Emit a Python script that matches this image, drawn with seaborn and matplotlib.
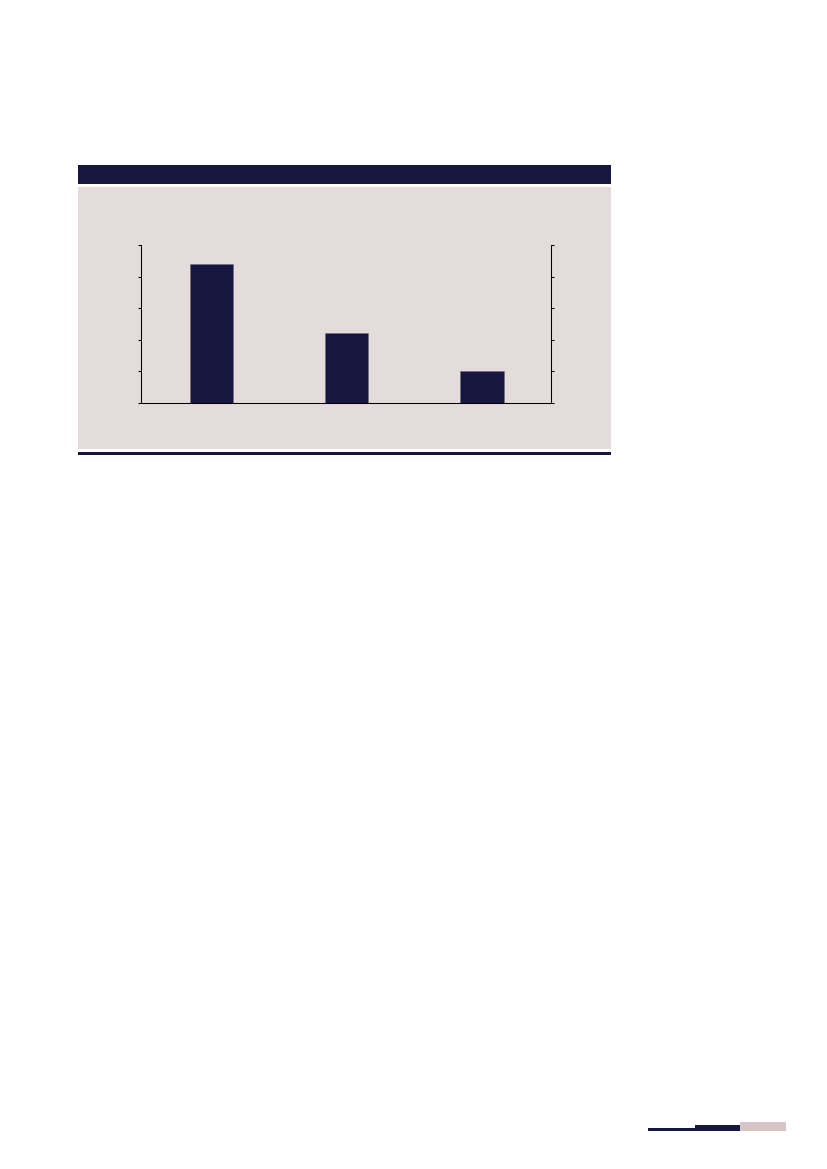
import matplotlib
matplotlib.use("Agg")
import matplotlib.pyplot as plt
from matplotlib.patches import Rectangle
import seaborn as sns
import pandas as pd

# Data (no labels are shown in the picture)
categories = ["A", "B", "C"]
values = [4.4, 2.2, 1.0]
y_ticks = [0, 1, 2, 3, 4, 5]

navy = "#16163F"
panel = "#E3DCDB"
pink = "#D5C5C4"

W, H = 827, 1169

sns.set_style("ticks")
fig = plt.figure(figsize=(W / 100, H / 100), dpi=100)


def px_rect(x0, y0, x1, y1, color):
    # rectangle given in pixel coordinates (top-left origin), drawn behind the axes
    fig.patches.append(Rectangle((x0 / W, 1 - y1 / H), (x1 - x0) / W, (y1 - y0) / H,
                                 transform=fig.transFigure, facecolor=color,
                                 edgecolor="none", zorder=-1))


# Header band, grey panel and bottom rule
px_rect(78, 165, 611, 184, navy)
px_rect(78, 187, 611, 449, panel)
px_rect(78, 452, 611, 454.5, navy)

# Footer decoration
px_rect(648, 1128, 695, 1130.5, navy)
px_rect(695, 1125, 740, 1130.5, navy)
px_rect(740, 1122, 786, 1130.5, pink)

df = pd.DataFrame({"cat": categories, "val": values})

ax = fig.add_axes([141 / W, 1 - 403 / H, 410 / W, 158 / H])
ax.set_facecolor("none")
sns.barplot(data=df, x="cat", y="val", color=navy, width=0.32,
            saturation=1, edgecolor="#6E6E88", linewidth=0.4, ax=ax)

ax.set_xlim(-0.52, 2.51)
ax.set_ylim(0, 5)
ax.set_yticks(y_ticks)
ax.set_xticks([])
ax.set_xlabel("")
ax.set_ylabel("")
ax.set_yticklabels([])
ax.tick_params(axis="y", direction="out", length=2, width=0.75, color="black",
               left=True, right=True, labelleft=False, labelright=False)
for side in ["left", "right", "bottom"]:
    ax.spines[side].set_visible(True)
    ax.spines[side].set_color("black")
    ax.spines[side].set_linewidth(0.75)
ax.spines["top"].set_visible(False)

fig.savefig("out.png", dpi=100)
